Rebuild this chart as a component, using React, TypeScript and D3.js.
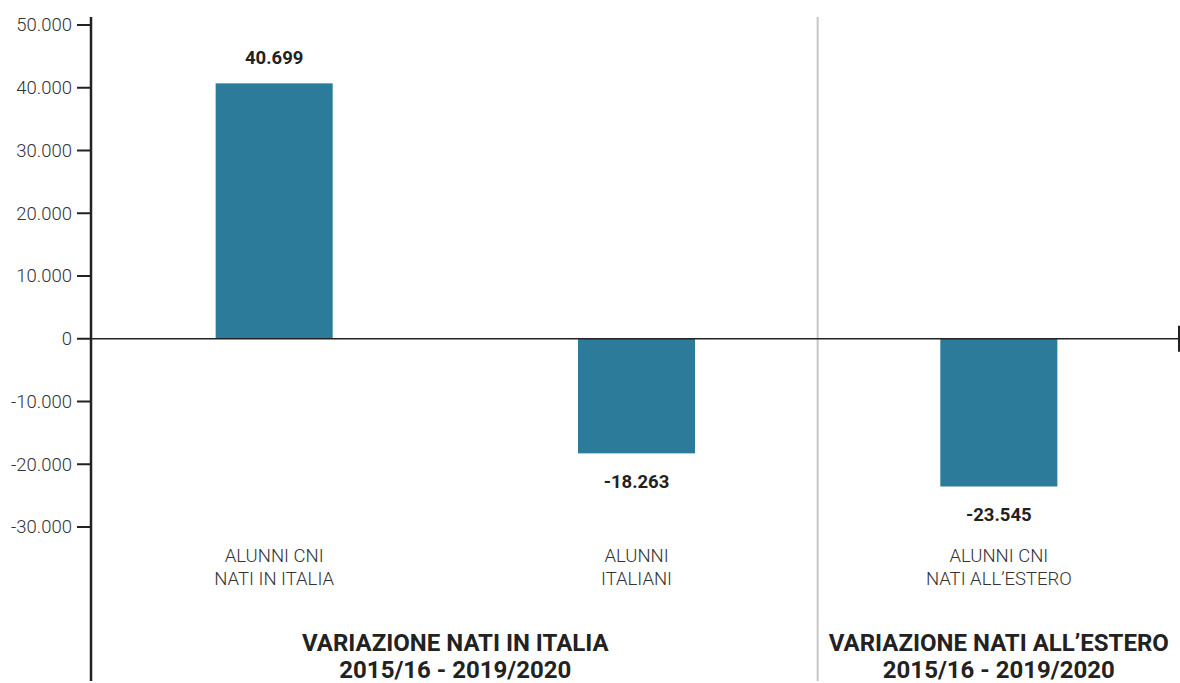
import { scaleLinear, scaleBand, formatLocale } from "d3";

const width = 1180;
const height = 683;

// Variazione alunni 2015/16 - 2019/2020
const categories = ["cni_italia", "italiani", "cni_estero"];
const categoryLabels = [
  ["ALUNNI CNI", "NATI IN ITALIA"],
  ["ALUNNI", "ITALIANI"],
  ["ALUNNI CNI", "NATI ALL\u2019ESTERO"],
];
const values = [40699, -18263, -23545];
const yTicks = [50000, 40000, 30000, 20000, 10000, 0, -10000, -20000, -30000];
const groupTitles = [
  ["VARIAZIONE NATI IN ITALIA", "2015/16 - 2019/2020"],
  ["VARIAZIONE NATI ALL\u2019ESTERO", "2015/16 - 2019/2020"],
];
// how many categories in each group
const groupSizes = [2, 1];

const itLocale = formatLocale({
  decimal: ",",
  thousands: ".",
  grouping: [3],
  currency: ["\u20ac", ""],
  minus: "-",
});
const fmt = itLocale.format(",d");

const axisX = 91;
const barColor = "#2c7b9a";
const font = "Roboto, 'Noto Sans', sans-serif";

export default function App() {
  const x = scaleBand<string>()
    .domain(categories)
    .range([93, 1180])
    .paddingInner(0.677)
    .paddingOuter(0.3385);

  const y = scaleLinear().domain([-30000, 50000]).range([527, 25]);
  const y0 = y(0);

  const step = x.step();
  const start = x.range()[0];
  let acc = 0;
  const groups = groupSizes.map((n, i) => {
    const left = start + acc * step;
    acc += n;
    const right = start + acc * step;
    return { left, right, title: groupTitles[i] };
  });

  return (
    <div style={{ position: "fixed", left: 0, top: 0 }}>
      <svg width={width} height={height} style={{ display: "block", fontFamily: font }}>
        <rect width={width} height={height} fill="#fff" />

        {/* group separators */}
        {groups.slice(1).map((g, i) => (
          <line key={i} x1={g.left} x2={g.left} y1={17} y2={681} stroke="#c8c8c8" strokeWidth={2} />
        ))}

        {/* bars */}
        {categories.map((c, i) => {
          const v = values[i];
          const top = v >= 0 ? y(v) : y0;
          const h = Math.abs(y(v) - y0);
          return <rect key={c} x={x(c)} y={top} width={x.bandwidth()} height={h} fill={barColor} />;
        })}

        {/* value labels */}
        {categories.map((c, i) => {
          const v = values[i];
          const cx = (x(c) ?? 0) + x.bandwidth() / 2;
          const ty = v >= 0 ? y(v) - 19 : y(v) + 35;
          return (
            <text key={c} x={cx} y={ty} textAnchor="middle" fontSize={18.5} fontWeight={700} fill="#222">
              {fmt(v)}
            </text>
          );
        })}

        {/* category labels */}
        {categories.map((c, i) => {
          const cx = (x(c) ?? 0) + x.bandwidth() / 2;
          return (
            <text key={c} x={cx} y={561.5} textAnchor="middle" fontSize={18.5} fontWeight={300} fill="#333">
              {categoryLabels[i].map((l, j) => (
                <tspan key={j} x={cx} dy={j === 0 ? 0 : 23}>
                  {l}
                </tspan>
              ))}
            </text>
          );
        })}

        {/* group titles */}
        {groups.map((g, i) => {
          const cx = (g.left + g.right) / 2;
          return (
            <text key={i} x={cx} y={650.5} textAnchor="middle" fontSize={24} fontWeight={700} fill="#222">
              {g.title.map((l, j) => (
                <tspan key={j} x={cx} dy={j === 0 ? 0 : 27.5}>
                  {l}
                </tspan>
              ))}
            </text>
          );
        })}

        {/* zero line */}
        <line x1={axisX} x2={1179} y1={y0} y2={y0} stroke="#222" strokeWidth={1.5} />
        <line x1={1179} x2={1179} y1={y0 - 13} y2={y0 + 13} stroke="#222" strokeWidth={2} />

        {/* y axis */}
        <line x1={axisX} x2={axisX} y1={17} y2={681} stroke="#222" strokeWidth={2.5} />
        {yTicks.map((t) => (
          <g key={t} transform={`translate(0,${y(t)})`}>
            <line x1={77} x2={axisX} stroke="#222" strokeWidth={2} />
            <text x={72} dy="0.35em" textAnchor="end" fontSize={18.5} fontWeight={300} fill="#333">
              {fmt(t)}
            </text>
          </g>
        ))}
      </svg>
    </div>
  );
}
